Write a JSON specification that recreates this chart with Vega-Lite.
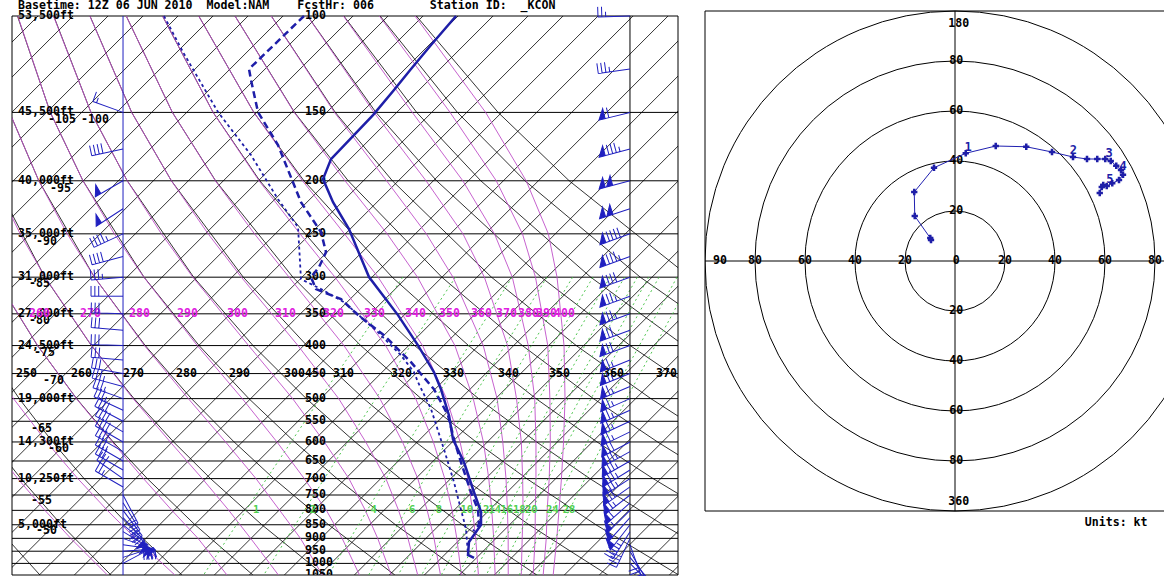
{
"$schema":"https://vega.github.io/schema/vega-lite/v6.json",
"padding":{"left":11,"top":0,"right":0,"bottom":0},
"spacing":25,
"background":"white",
"config":{"view":{"stroke":null},"font":"DejaVu Sans Mono"},
"datasets":{
"plev":[{"p":100},{"p":150},{"p":200},{"p":250},{"p":300},{"p":350},{"p":400},{"p":450},{"p":500},{"p":550},{"p":600},{"p":650},{"p":700},{"p":750},{"p":800},{"p":850},{"p":900},{"p":950},{"p":1000},{"p":1050}],
"frame":[{"x":-45.57},{"x":49.57}],
"iso":[{"t":-120,"xb":-121.66,"xt":-41.85},{"t":-115,"xb":-116.66,"xt":-36.85},{"t":-110,"xb":-111.66,"xt":-31.85},{"t":-105,"xb":-106.66,"xt":-26.85},{"t":-100,"xb":-101.66,"xt":-21.85},{"t":-95,"xb":-96.66,"xt":-16.85},{"t":-90,"xb":-91.66,"xt":-11.85},{"t":-85,"xb":-86.66,"xt":-6.85},{"t":-80,"xb":-81.66,"xt":-1.85},{"t":-75,"xb":-76.66,"xt":3.15},{"t":-70,"xb":-71.66,"xt":8.15},{"t":-65,"xb":-66.66,"xt":13.15},{"t":-60,"xb":-61.66,"xt":18.15},{"t":-55,"xb":-56.66,"xt":23.15},{"t":-50,"xb":-51.66,"xt":28.15},{"t":-45,"xb":-46.66,"xt":33.15},{"t":-40,"xb":-41.66,"xt":38.15},{"t":-35,"xb":-36.66,"xt":43.15},{"t":-30,"xb":-31.66,"xt":48.15},{"t":-25,"xb":-26.66,"xt":53.15},{"t":-20,"xb":-21.66,"xt":58.15},{"t":-15,"xb":-16.66,"xt":63.15},{"t":-10,"xb":-11.66,"xt":68.15},{"t":-5,"xb":-6.66,"xt":73.15},{"t":0,"xb":-1.66,"xt":78.15},{"t":5,"xb":3.34,"xt":83.15},{"t":10,"xb":8.34,"xt":88.15},{"t":15,"xb":13.34,"xt":93.15},{"t":20,"xb":18.34,"xt":98.15},{"t":25,"xb":23.34,"xt":103.15},{"t":30,"xb":28.34,"xt":108.15},{"t":35,"xb":33.34,"xt":113.15},{"t":40,"xb":38.34,"xt":118.15},{"t":45,"xb":43.34,"xt":123.15},{"t":50,"xb":48.34,"xt":128.15}],
"dry":[
{"th":230,"p":1050,"x":-41.58},{"th":230,"p":850,"x":-48.07},
{"th":240,"p":1050,"x":-31.44},{"th":240,"p":850,"x":-38.52},{"th":240,"p":700,"x":-44.3},{"th":240,"p":600,"x":-48.41},
{"th":250,"p":1050,"x":-21.3},{"th":250,"p":850,"x":-28.98},{"th":250,"p":700,"x":-35.27},{"th":250,"p":600,"x":-39.77},{"th":250,"p":500,"x":-44.54},{"th":250,"p":400,"x":-49.63},
{"th":260,"p":1050,"x":-11.16},{"th":260,"p":850,"x":-19.43},{"th":260,"p":700,"x":-26.24},{"th":260,"p":600,"x":-31.12},{"th":260,"p":500,"x":-36.34},{"th":260,"p":400,"x":-41.93},{"th":260,"p":300,"x":-47.97},
{"th":270,"p":1050,"x":-1.02},{"th":270,"p":850,"x":-9.88},{"th":270,"p":700,"x":-17.21},{"th":270,"p":600,"x":-22.48},{"th":270,"p":500,"x":-28.14},{"th":270,"p":400,"x":-34.23},{"th":270,"p":300,"x":-40.88},{"th":270,"p":200,"x":-48.05},
{"th":280,"p":1050,"x":9.12},{"th":280,"p":850,"x":-0.34},{"th":280,"p":700,"x":-8.18},{"th":280,"p":600,"x":-13.84},{"th":280,"p":500,"x":-19.94},{"th":280,"p":400,"x":-26.54},{"th":280,"p":300,"x":-33.8},{"th":280,"p":200,"x":-41.74},{"th":280,"p":150,"x":-45.92},{"th":280,"p":100,"x":-49.97},
{"th":290,"p":1050,"x":19.26},{"th":290,"p":850,"x":9.21},{"th":290,"p":700,"x":0.86},{"th":290,"p":600,"x":-5.2},{"th":290,"p":500,"x":-11.73},{"th":290,"p":400,"x":-18.84},{"th":290,"p":300,"x":-26.71},{"th":290,"p":200,"x":-35.43},{"th":290,"p":150,"x":-40.1},{"th":290,"p":100,"x":-44.79},
{"th":300,"p":1050,"x":29.4},{"th":300,"p":850,"x":18.75},{"th":300,"p":700,"x":9.89},{"th":300,"p":600,"x":3.44},{"th":300,"p":500,"x":-3.53},{"th":300,"p":400,"x":-11.14},{"th":300,"p":300,"x":-19.62},{"th":300,"p":200,"x":-29.11},{"th":300,"p":150,"x":-34.29},{"th":300,"p":100,"x":-39.61},
{"th":310,"p":1050,"x":39.54},{"th":310,"p":850,"x":28.3},{"th":310,"p":700,"x":18.92},{"th":310,"p":600,"x":12.09},{"th":310,"p":500,"x":4.67},{"th":310,"p":400,"x":-3.44},{"th":310,"p":300,"x":-12.53},{"th":310,"p":200,"x":-22.8},{"th":310,"p":150,"x":-28.47},{"th":310,"p":100,"x":-34.43},
{"th":320,"p":1050,"x":49.68},{"th":320,"p":850,"x":37.85},{"th":320,"p":700,"x":27.95},{"th":320,"p":600,"x":20.73},{"th":320,"p":500,"x":12.88},{"th":320,"p":400,"x":4.25},{"th":320,"p":300,"x":-5.44},{"th":320,"p":200,"x":-16.48},{"th":320,"p":150,"x":-22.66},{"th":320,"p":100,"x":-29.25},
{"th":330,"p":1050,"x":59.82},{"th":330,"p":850,"x":47.39},{"th":330,"p":700,"x":36.98},{"th":330,"p":600,"x":29.37},{"th":330,"p":500,"x":21.08},{"th":330,"p":400,"x":11.95},{"th":330,"p":300,"x":1.65},{"th":330,"p":200,"x":-10.17},{"th":330,"p":150,"x":-16.84},{"th":330,"p":100,"x":-24.07},
{"th":340,"p":1050,"x":69.96},{"th":340,"p":850,"x":56.94},{"th":340,"p":700,"x":46.01},{"th":340,"p":600,"x":38.01},{"th":340,"p":500,"x":29.28},{"th":340,"p":400,"x":19.65},{"th":340,"p":300,"x":8.74},{"th":340,"p":200,"x":-3.86},{"th":340,"p":150,"x":-11.02},{"th":340,"p":100,"x":-18.89},
{"th":350,"p":850,"x":66.48},{"th":350,"p":700,"x":55.04},{"th":350,"p":600,"x":46.65},{"th":350,"p":500,"x":37.49},{"th":350,"p":400,"x":27.34},{"th":350,"p":300,"x":15.83},{"th":350,"p":200,"x":2.46},{"th":350,"p":150,"x":-5.21},{"th":350,"p":100,"x":-13.71},
{"th":360,"p":700,"x":64.07},{"th":360,"p":600,"x":55.3},{"th":360,"p":500,"x":45.69},{"th":360,"p":400,"x":35.04},{"th":360,"p":300,"x":22.92},{"th":360,"p":200,"x":8.77},{"th":360,"p":150,"x":0.61},{"th":360,"p":100,"x":-8.53},
{"th":370,"p":600,"x":63.94},{"th":370,"p":500,"x":53.89},{"th":370,"p":400,"x":42.74},{"th":370,"p":300,"x":30.01},{"th":370,"p":200,"x":15.09},{"th":370,"p":150,"x":6.42},{"th":370,"p":100,"x":-3.35},
{"th":380,"p":500,"x":62.1},{"th":380,"p":400,"x":50.44},{"th":380,"p":300,"x":37.1},{"th":380,"p":200,"x":21.4},{"th":380,"p":150,"x":12.24},{"th":380,"p":100,"x":1.83},
{"th":390,"p":400,"x":58.13},{"th":390,"p":300,"x":44.18},{"th":390,"p":200,"x":27.71},{"th":390,"p":150,"x":18.06},{"th":390,"p":100,"x":7.01},
{"th":400,"p":400,"x":65.83},{"th":400,"p":300,"x":51.27},{"th":400,"p":200,"x":34.03},{"th":400,"p":150,"x":23.87},{"th":400,"p":100,"x":12.19}],
"moist":[
{"te":240,"p":1050,"x":-31.94},{"te":240,"p":900,"x":-37.18},{"te":240,"p":800,"x":-40.87},{"te":240,"p":700,"x":-44.75},{"te":240,"p":600,"x":-48.84},
{"te":250,"p":1050,"x":-22.31},{"te":250,"p":900,"x":-27.96},{"te":250,"p":800,"x":-31.95},{"te":250,"p":700,"x":-36.17},{"te":250,"p":600,"x":-40.63},{"te":250,"p":500,"x":-45.36},{"te":250,"p":400,"x":-50.4},
{"te":260,"p":1050,"x":-14.86},{"te":260,"p":900,"x":-19.0},{"te":260,"p":800,"x":-22.73},{"te":260,"p":700,"x":-26.79},{"te":260,"p":600,"x":-31.26},{"te":260,"p":500,"x":-36.38},{"te":260,"p":400,"x":-41.9},{"te":260,"p":300,"x":-47.94},
{"te":270,"p":1050,"x":-7.51},{"te":270,"p":900,"x":-11.48},{"te":270,"p":800,"x":-14.6},{"te":270,"p":700,"x":-18.39},{"te":270,"p":600,"x":-22.96},{"te":270,"p":500,"x":-28.28},{"te":270,"p":400,"x":-34.2},{"te":270,"p":300,"x":-40.84},{"te":270,"p":250,"x":-44.41},{"te":270,"p":200,"x":-48.08},
{"te":280,"p":1050,"x":-1.23},{"te":280,"p":900,"x":-4.37},{"te":280,"p":800,"x":-7.33},{"te":280,"p":700,"x":-10.72},{"te":280,"p":600,"x":-15.06},{"te":280,"p":500,"x":-20.38},{"te":280,"p":400,"x":-26.65},{"te":280,"p":300,"x":-33.79},{"te":280,"p":250,"x":-37.68},{"te":280,"p":200,"x":-41.74},{"te":280,"p":150,"x":-45.92},{"te":280,"p":100,"x":-49.95},
{"te":290,"p":1050,"x":4.07},{"te":290,"p":900,"x":1.59},{"te":290,"p":800,"x":-0.66},{"te":290,"p":700,"x":-3.82},{"te":290,"p":600,"x":-7.72},{"te":290,"p":500,"x":-12.68},{"te":290,"p":400,"x":-19.1},{"te":290,"p":300,"x":-26.74},{"te":290,"p":250,"x":-30.95},{"te":290,"p":200,"x":-35.43},{"te":290,"p":150,"x":-40.11},{"te":290,"p":100,"x":-44.75},
{"te":300,"p":1050,"x":8.61},{"te":300,"p":900,"x":6.67},{"te":300,"p":800,"x":4.9},{"te":300,"p":700,"x":2.56},{"te":300,"p":600,"x":-0.95},{"te":300,"p":500,"x":-5.48},{"te":300,"p":400,"x":-11.77},{"te":300,"p":300,"x":-19.74},{"te":300,"p":250,"x":-24.22},{"te":300,"p":200,"x":-29.11},{"te":300,"p":150,"x":-34.29},{"te":300,"p":100,"x":-39.65},
{"te":310,"p":1050,"x":12.39},{"te":310,"p":900,"x":10.99},{"te":310,"p":800,"x":9.65},{"te":310,"p":700,"x":7.84},{"te":310,"p":600,"x":4.96},{"te":310,"p":500,"x":1.1},{"te":310,"p":400,"x":-4.72},{"te":310,"p":300,"x":-12.81},{"te":310,"p":250,"x":-17.55},{"te":310,"p":200,"x":-22.8},{"te":310,"p":150,"x":-28.48},{"te":310,"p":100,"x":-34.45},
{"te":320,"p":1050,"x":15.64},{"te":320,"p":900,"x":14.72},{"te":320,"p":800,"x":13.74},{"te":320,"p":700,"x":12.4},{"te":320,"p":600,"x":10.22},{"te":320,"p":500,"x":6.98},{"te":320,"p":400,"x":1.85},{"te":320,"p":300,"x":-5.99},{"te":320,"p":250,"x":-10.93},{"te":320,"p":200,"x":-16.52},{"te":320,"p":150,"x":-22.66},{"te":320,"p":100,"x":-29.25},
{"te":330,"p":1050,"x":18.63},{"te":330,"p":900,"x":17.97},{"te":330,"p":800,"x":17.3},{"te":330,"p":700,"x":16.25},{"te":330,"p":600,"x":14.62},{"te":330,"p":500,"x":12.1},{"te":330,"p":400,"x":7.8},{"te":330,"p":300,"x":0.57},{"te":330,"p":250,"x":-4.43},{"te":330,"p":200,"x":-10.28},{"te":330,"p":150,"x":-16.85},{"te":330,"p":100,"x":-24.05},
{"te":340,"p":1050,"x":21.06},{"te":340,"p":900,"x":20.67},{"te":340,"p":800,"x":20.22},{"te":340,"p":700,"x":19.54},{"te":340,"p":600,"x":18.44},{"te":340,"p":500,"x":16.5},{"te":340,"p":400,"x":13.08},{"te":340,"p":300,"x":6.73},{"te":340,"p":250,"x":1.92},{"te":340,"p":200,"x":-4.07},{"te":340,"p":150,"x":-11.03},{"te":340,"p":100,"x":-18.9},
{"te":350,"p":1050,"x":23.45},{"te":350,"p":900,"x":23.24},{"te":350,"p":800,"x":22.97},{"te":350,"p":700,"x":22.54},{"te":350,"p":600,"x":21.77},{"te":350,"p":500,"x":20.32},{"te":350,"p":400,"x":17.7},{"te":350,"p":300,"x":12.36},{"te":350,"p":250,"x":8.02},{"te":350,"p":200,"x":2.0},{"te":350,"p":150,"x":-5.26},{"te":350,"p":100,"x":-13.72},
{"te":360,"p":1050,"x":25.32},{"te":360,"p":900,"x":25.31},{"te":360,"p":800,"x":25.21},{"te":360,"p":700,"x":25.0},{"te":360,"p":600,"x":24.54},{"te":360,"p":500,"x":23.73},{"te":360,"p":400,"x":21.75},{"te":360,"p":300,"x":17.43},{"te":360,"p":250,"x":13.62},{"te":360,"p":200,"x":7.94},{"te":360,"p":150,"x":0.49},{"te":360,"p":100,"x":-8.54},
{"te":370,"p":1050,"x":27.18},{"te":370,"p":900,"x":27.31},{"te":370,"p":800,"x":27.44},{"te":370,"p":700,"x":27.38},{"te":370,"p":600,"x":27.19},{"te":370,"p":500,"x":26.5},{"te":370,"p":400,"x":25.22},{"te":370,"p":300,"x":21.91},{"te":370,"p":250,"x":18.85},{"te":370,"p":200,"x":13.58},{"te":370,"p":150,"x":6.14},{"te":370,"p":100,"x":-3.36},
{"te":380,"p":1050,"x":28.88},{"te":380,"p":900,"x":29.16},{"te":380,"p":800,"x":29.18},{"te":380,"p":700,"x":29.28},{"te":380,"p":600,"x":29.28},{"te":380,"p":500,"x":29.1},{"te":380,"p":400,"x":28.18},{"te":380,"p":300,"x":25.9},{"te":380,"p":250,"x":23.35},{"te":380,"p":200,"x":18.83},{"te":380,"p":150,"x":11.61},{"te":380,"p":100,"x":1.77},
{"te":390,"p":1050,"x":30.31},{"te":390,"p":900,"x":30.75},{"te":390,"p":800,"x":30.88},{"te":390,"p":700,"x":31.17},{"te":390,"p":600,"x":31.33},{"te":390,"p":500,"x":31.27},{"te":390,"p":400,"x":30.97},{"te":390,"p":300,"x":29.21},{"te":390,"p":250,"x":27.35},{"te":390,"p":200,"x":23.61},{"te":390,"p":150,"x":17.01},{"te":390,"p":100,"x":6.91},
{"te":400,"p":1050,"x":31.74},{"te":400,"p":900,"x":32.26},{"te":400,"p":800,"x":32.57},{"te":400,"p":700,"x":32.92},{"te":400,"p":600,"x":33.22},{"te":400,"p":500,"x":33.43},{"te":400,"p":400,"x":33.29},{"te":400,"p":300,"x":32.29},{"te":400,"p":250,"x":31.05},{"te":400,"p":200,"x":27.88},{"te":400,"p":150,"x":22.09},{"te":400,"p":100,"x":12.0}],
"mix":[
{"w":1,"p":1050,"x":-18.21},{"w":1,"p":700,"x":-9.19},{"w":1,"p":500,"x":-1.57},{"w":1,"p":300,"x":10.25},
{"w":2,"p":1050,"x":-9.61},{"w":2,"p":700,"x":-0.96},{"w":2,"p":500,"x":6.38},{"w":2,"p":300,"x":17.79},
{"w":4,"p":1050,"x":-0.37},{"w":4,"p":700,"x":7.88},{"w":4,"p":500,"x":14.9},{"w":4,"p":300,"x":25.87},
{"w":6,"p":1050,"x":5.37},{"w":6,"p":700,"x":13.36},{"w":6,"p":500,"x":20.18},{"w":6,"p":300,"x":30.85},
{"w":8,"p":1050,"x":9.59},{"w":8,"p":700,"x":17.38},{"w":8,"p":500,"x":24.05},{"w":8,"p":300,"x":34.52},
{"w":10,"p":1050,"x":12.95},{"w":10,"p":700,"x":20.59},{"w":10,"p":500,"x":27.13},{"w":10,"p":300,"x":37.43},
{"w":12,"p":1050,"x":15.75},{"w":12,"p":700,"x":23.26},{"w":12,"p":500,"x":29.7},{"w":12,"p":300,"x":39.85},
{"w":14,"p":1050,"x":18.16},{"w":14,"p":700,"x":25.56},{"w":14,"p":500,"x":31.91},{"w":14,"p":300,"x":41.93},
{"w":16,"p":1050,"x":20.28},{"w":16,"p":700,"x":27.57},{"w":16,"p":500,"x":33.85},{"w":16,"p":300,"x":43.76},
{"w":18,"p":1050,"x":22.17},{"w":18,"p":700,"x":29.37},{"w":18,"p":500,"x":35.58},{"w":18,"p":300,"x":45.39},
{"w":20,"p":1050,"x":23.88},{"w":20,"p":700,"x":31.0},{"w":20,"p":500,"x":37.14},{"w":20,"p":300,"x":46.86},
{"w":24,"p":1050,"x":26.88},{"w":24,"p":700,"x":33.85},{"w":24,"p":500,"x":39.87},{"w":24,"p":300,"x":49.43},
{"w":28,"p":1050,"x":29.45},{"w":28,"p":700,"x":36.29},{"w":28,"p":500,"x":42.22},{"w":28,"p":300,"x":51.63}],
"tprof":[{"p":100,"x":17.86},{"p":113,"x":14.29},{"p":125,"x":11.43},{"p":136.5,"x":9.0},{"p":151.7,"x":6.0},{"p":182.6,"x":0.0},{"p":198.6,"x":-1.14},{"p":218.8,"x":0.29},{"p":245.1,"x":2.57},{"p":299.9,"x":5.43},{"p":351.9,"x":9.57},{"p":399.6,"x":12.43},{"p":447.4,"x":14.71},{"p":480.7,"x":15.71},{"p":536.8,"x":16.86},{"p":593.2,"x":17.43},{"p":653.5,"x":19.0},{"p":741.4,"x":20.43},{"p":805.3,"x":21.43},{"p":850.7,"x":21.43},{"p":876.1,"x":20.71},{"p":914,"x":19.71},{"p":965.1,"x":19.57},{"p":977.3,"x":20.43}],
"dprof":[{"p":100,"x":-3.86},{"p":125,"x":-11.71},{"p":130.9,"x":-11.43},{"p":149.8,"x":-10.43},{"p":172.1,"x":-7.57},{"p":218.8,"x":-4.29},{"p":248.2,"x":-1.43},{"p":270,"x":-0.71},{"p":287.5,"x":-1.71},{"p":299.9,"x":-2.86},{"p":315.4,"x":-2.14},{"p":329,"x":1.43},{"p":351.9,"x":3.86},{"p":382.9,"x":7.57},{"p":429,"x":11.43},{"p":480.7,"x":14.71},{"p":536,"x":16.71},{"p":593.2,"x":17.57},{"p":653.5,"x":18.57},{"p":741.4,"x":20.0},{"p":797.7,"x":21.0},{"p":850.7,"x":21.14},{"p":873,"x":20.3}],
"wprof":[{"p":100,"x":-23.86},{"p":116.4,"x":-21.14},{"p":149.8,"x":-16.14},{"p":179.5,"x":-11.43},{"p":216.1,"x":-7.57},{"p":243,"x":-4.71},{"p":302.4,"x":-4.29},{"p":315.4,"x":-1.43},{"p":333.2,"x":1.86},{"p":378.1,"x":6.71},{"p":416.7,"x":10.0},{"p":447.4,"x":11.86},{"p":466.5,"x":12.43},{"p":522.4,"x":14.29},{"p":618.8,"x":16.14},{"p":710.4,"x":17.57},{"p":797.7,"x":18.57},{"p":865.2,"x":19.29},{"p":965.1,"x":19.57}],
"barbR":[{"p":100,"dir":268,"spd":25},{"p":125,"dir":262,"spd":35},{"p":150,"dir":256,"spd":60},{"p":175,"dir":255,"spd":85},{"p":200,"dir":255,"spd":100},{"p":225,"dir":252,"spd":100},{"p":250,"dir":250,"spd":90},{"p":275,"dir":250,"spd":85},{"p":300,"dir":250,"spd":80},{"p":325,"dir":250,"spd":75},{"p":350,"dir":250,"spd":75},{"p":375,"dir":250,"spd":70},{"p":400,"dir":250,"spd":70},{"p":425,"dir":248,"spd":65},{"p":450,"dir":248,"spd":65},{"p":475,"dir":247,"spd":65},{"p":500,"dir":246,"spd":65},{"p":525,"dir":246,"spd":65},{"p":550,"dir":245,"spd":65},{"p":575,"dir":244,"spd":65},{"p":600,"dir":242,"spd":70},{"p":625,"dir":241,"spd":75},{"p":650,"dir":240,"spd":75},{"p":675,"dir":238,"spd":75},{"p":700,"dir":237,"spd":75},{"p":725,"dir":235,"spd":70},{"p":750,"dir":232,"spd":65},{"p":775,"dir":228,"spd":60},{"p":800,"dir":225,"spd":55},{"p":825,"dir":222,"spd":50},{"p":850,"dir":218,"spd":50},{"p":875,"dir":212,"spd":45},{"p":900,"dir":205,"spd":40},{"p":925,"dir":160,"spd":30},{"p":950,"dir":150,"spd":20},{"p":975,"dir":140,"spd":15},{"p":1000,"dir":135,"spd":10}],
"barbL":[{"p":150,"dir":290,"spd":15},{"p":175,"dir":258,"spd":40},{"p":200,"dir":240,"spd":50},{"p":225,"dir":237,"spd":50},{"p":250,"dir":245,"spd":45},{"p":275,"dir":255,"spd":40},{"p":300,"dir":265,"spd":35},{"p":325,"dir":270,"spd":30},{"p":350,"dir":272,"spd":30},{"p":375,"dir":275,"spd":30},{"p":400,"dir":272,"spd":30},{"p":425,"dir":275,"spd":30},{"p":450,"dir":280,"spd":30},{"p":475,"dir":285,"spd":35},{"p":500,"dir":290,"spd":35},{"p":525,"dir":295,"spd":35},{"p":550,"dir":298,"spd":40},{"p":575,"dir":300,"spd":40},{"p":600,"dir":300,"spd":40},{"p":625,"dir":300,"spd":40},{"p":650,"dir":300,"spd":35},{"p":675,"dir":300,"spd":30},{"p":700,"dir":305,"spd":30},{"p":725,"dir":300,"spd":25},{"p":750,"dir":152,"spd":20},{"p":775,"dir":148,"spd":25},{"p":800,"dir":143,"spd":30},{"p":825,"dir":137,"spd":40},{"p":850,"dir":129,"spd":50},{"p":875,"dir":121,"spd":50},{"p":900,"dir":110,"spd":50},{"p":925,"dir":98,"spd":50},{"p":950,"dir":86,"spd":40},{"p":975,"dir":72,"spd":30},{"p":1000,"dir":62,"spd":20}],
"title":[{"t":"Basetime: 12Z 06 JUN 2010\u00a0\u00a0Model:NAM\u00a0\u00a0\u00a0\u00a0FcstHr: 006\u00a0\u00a0\u00a0\u00a0\u00a0\u00a0\u00a0\u00a0Station ID:\u00a0\u00a0_KCON","p":95.9}],
"hgt":[{"t":"53,500ft","p":100},{"t":"45,500ft","p":150},{"t":"40,000ft","p":200},{"t":"35,000ft","p":250},{"t":"31,000ft","p":300},{"t":"27,000ft","p":350},{"t":"24,500ft","p":400},{"t":"19,000ft","p":500},{"t":"14,300ft","p":600},{"t":"10,250ft","p":700},{"t":"5,000ft","p":850}],
"plab":[{"t":"100","p":100},{"t":"150","p":150},{"t":"200","p":200},{"t":"250","p":250},{"t":"300","p":300},{"t":"350","p":350},{"t":"400","p":400},{"t":"450","p":450},{"t":"500","p":500},{"t":"550","p":550},{"t":"600","p":600},{"t":"650","p":650},{"t":"700","p":700},{"t":"750","p":750},{"t":"800","p":800},{"t":"850","p":850},{"t":"900","p":900},{"t":"950","p":950},{"t":"1000","p":1000},{"t":"1050","p":1050}],
"tlab":[{"t":"-105","x":-40.43,"p":154.9},{"t":"-100","x":-35.71,"p":154.9},{"t":"-95","x":-40.14,"p":207.1},{"t":"-90","x":-42.14,"p":258.9},{"t":"-85","x":-43.14,"p":308.9},{"t":"-80","x":-43.14,"p":361.0},{"t":"-75","x":-42.43,"p":413.0},{"t":"-70","x":-41.14,"p":464.7},{"t":"-65","x":-42.86,"p":568.7},{"t":"-60","x":-40.43,"p":618.7},{"t":"-55","x":-42.86,"p":770.1},{"t":"-50","x":-42.14,"p":873.7}],
"thlab":[{"t":"250","x":-45.0},{"t":"260","x":-37.14},{"t":"270","x":-29.71},{"t":"280","x":-22.14},{"t":"290","x":-14.57},{"t":"300","x":-6.71},{"t":"310","x":0.29},{"t":"320","x":8.57},{"t":"330","x":16.0},{"t":"340","x":23.86},{"t":"350","x":31.14},{"t":"360","x":38.86},{"t":"370","x":46.43}],
"telab":[{"t":"260","x":-43.14},{"t":"270","x":-35.86},{"t":"280","x":-28.86},{"t":"290","x":-22.0},{"t":"300","x":-14.86},{"t":"310","x":-8.0},{"t":"320","x":-1.14},{"t":"330","x":4.71},{"t":"340","x":10.57},{"t":"350","x":15.43},{"t":"360","x":20.0},{"t":"370","x":23.57},{"t":"380","x":26.71},{"t":"390","x":29.29},{"t":"400","x":31.86}],
"wlab":[{"t":"1","x":-10.7},{"t":"2","x":-2.6},{"t":"4","x":6.1},{"t":"6","x":11.6},{"t":"8","x":15.4},{"t":"10","x":19.4},{"t":"12","x":21.7},{"t":"14","x":23.4},{"t":"16","x":25.1},{"t":"18","x":26.9},{"t":"20","x":28.6},{"t":"24","x":31.6},{"t":"28","x":34.0}],
"hframe":[{"u":-100,"v":100,"u2":84.8,"v2":100},{"u":-100,"v":-100,"u2":84.8,"v2":-100},{"u":-100,"v":-100,"u2":-100,"v2":100},{"u":0,"v":-100,"u2":0,"v2":100},{"u":-100,"v":0,"u2":84.8,"v2":0}],
"rings":[{"r":20},{"r":40},{"r":60},{"r":80},{"r":100}],
"hlab":[{"t":"180","u":1.5,"v":95},{"t":"80","u":0.5,"v":80},{"t":"60","u":0.5,"v":60},{"t":"40","u":0.5,"v":40},{"t":"20","u":0.5,"v":20},{"t":"20","u":0.5,"v":-20},{"t":"40","u":0.5,"v":-40},{"t":"60","u":0.5,"v":-60},{"t":"80","u":0.5,"v":-80},{"t":"360","u":1.5,"v":-96.5},{"t":"90","u":-94,"v":0},{"t":"80","u":-80,"v":0},{"t":"60","u":-60,"v":0},{"t":"40","u":-40,"v":0},{"t":"20","u":-20,"v":0},{"t":"0","u":0.5,"v":0},{"t":"20","u":20,"v":0},{"t":"40","u":40,"v":0},{"t":"60","u":60,"v":0},{"t":"80","u":80,"v":0}],
"hodo":[{"i":0,"u":-9.6,"v":8.4},{"i":1,"u":-9.9,"v":9.2},{"i":2,"u":-16.1,"v":18.0},{"i":3,"u":-16.3,"v":27.6},{"i":4,"u":-8.4,"v":37.3},{"i":5,"u":4.3,"v":43.1},{"i":6,"u":16.3,"v":46.0},{"i":7,"u":28.5,"v":45.7},{"i":8,"u":38.8,"v":43.6},{"i":9,"u":47.2,"v":41.6},{"i":10,"u":52.8,"v":40.8},{"i":11,"u":56.9,"v":40.8},{"i":12,"u":60.1,"v":40.8},{"i":13,"u":62.3,"v":40.0},{"i":14,"u":64.5,"v":38.1},{"i":15,"u":66.4,"v":36.4},{"i":16,"u":67.2,"v":34.5},{"i":17,"u":65.6,"v":32.4},{"i":18,"u":62.9,"v":31.1},{"i":19,"u":60.7,"v":30.0},{"i":20,"u":59.3,"v":30.4},{"i":21,"u":58.7,"v":29.6},{"i":22,"u":57.9,"v":27.2}],
"hnum":[{"t":"1","u":5.2,"v":45.7},{"t":"2","u":47.3,"v":44.4},{"t":"3","u":61.6,"v":43.3},{"t":"4","u":67.2,"v":38.0},{"t":"5","u":61.9,"v":32.9}],
"units":[{"t":"Units: kt","u":51.9,"v":-104.8}]
},
"hconcat":[
{
"width":666,"height":573,
"layer":[
{"data":{"name":"plev"},"mark":{"type":"rule","color":"black","strokeWidth":1},
 "encoding":{"y":{"field":"p","type":"quantitative","scale":{"type":"log","domain":[94.28,1050],"reverse":true,"nice":false},"axis":null}}},
{"data":{"name":"frame"},"mark":{"type":"rule","color":"black","strokeWidth":1},
 "encoding":{"x":{"field":"x","type":"quantitative","scale":{"domain":[-45.57,49.57],"nice":false,"zero":false},"axis":null},
 "y":{"datum":100,"type":"quantitative","axis":null},"y2":{"datum":1050}}},
{"data":{"name":"iso"},"mark":{"type":"rule","color":"black","strokeWidth":0.8,"clip":true},
 "encoding":{"x":{"field":"xb","type":"quantitative","axis":null},"x2":{"field":"xt"},
 "y":{"datum":1050,"type":"quantitative","axis":null},"y2":{"datum":100}}},
{"data":{"name":"dry"},"mark":{"type":"line","color":"black","strokeWidth":0.8,"clip":true},
 "encoding":{"x":{"field":"x","type":"quantitative","axis":null},"y":{"field":"p","type":"quantitative","axis":null},"detail":{"field":"th"},"order":{"field":"p","type":"quantitative"}}},
{"data":{"name":"moist"},"mark":{"type":"line","color":"#c050c8","strokeWidth":0.9,"clip":true},
 "encoding":{"x":{"field":"x","type":"quantitative","axis":null},"y":{"field":"p","type":"quantitative","axis":null},"detail":{"field":"te"},"order":{"field":"p","type":"quantitative"}}},
{"data":{"name":"mix"},"mark":{"type":"line","color":"#3cc03c","strokeWidth":0.9,"strokeDash":[2,3],"clip":true},
 "encoding":{"x":{"field":"x","type":"quantitative","axis":null},"y":{"field":"p","type":"quantitative","axis":null},"detail":{"field":"w"},"order":{"field":"p","type":"quantitative"}}},
{"data":{"values":[{}]},"mark":{"type":"rule","color":"#2020c0","strokeWidth":1},
 "encoding":{"x":{"datum":-29.71,"type":"quantitative","axis":null},"y":{"datum":100,"type":"quantitative","axis":null},"y2":{"datum":1050}}},
{"data":{"values":[{}]},"mark":{"type":"rule","color":"black","strokeWidth":1},
 "encoding":{"x":{"datum":42.71,"type":"quantitative","axis":null},"y":{"datum":100,"type":"quantitative","axis":null},"y2":{"datum":1050}}},
{"data":{"name":"title"},"mark":{"type":"text","align":"left","baseline":"middle","font":"DejaVu Sans Mono","fontWeight":"bold","fontSize":11.6,"color":"black"},
 "encoding":{"x":{"datum":-44.71,"type":"quantitative","axis":null},"y":{"field":"p","type":"quantitative","axis":null},"text":{"field":"t"}}},
{"data":{"name":"hgt"},"mark":{"type":"text","align":"left","baseline":"middle","font":"DejaVu Sans Mono","fontWeight":"bold","fontSize":11.6,"color":"black"},
 "encoding":{"x":{"datum":-44.71,"type":"quantitative","axis":null},"y":{"field":"p","type":"quantitative","axis":null},"text":{"field":"t"}}},
{"data":{"name":"plab"},"mark":{"type":"text","align":"left","baseline":"middle","font":"DejaVu Sans Mono","fontWeight":"bold","fontSize":11.6,"color":"black","clip":true},
 "encoding":{"x":{"datum":-3.71,"type":"quantitative","axis":null},"y":{"field":"p","type":"quantitative","axis":null},"text":{"field":"t"}}},
{"data":{"name":"tlab"},"mark":{"type":"text","align":"left","baseline":"middle","font":"DejaVu Sans Mono","fontWeight":"bold","fontSize":11.6,"color":"black"},
 "encoding":{"x":{"field":"x","type":"quantitative","axis":null},"y":{"field":"p","type":"quantitative","axis":null},"text":{"field":"t"}}},
{"data":{"name":"thlab"},"mark":{"type":"text","align":"left","baseline":"middle","font":"DejaVu Sans Mono","fontWeight":"bold","fontSize":11.6,"color":"black"},
 "encoding":{"x":{"field":"x","type":"quantitative","axis":null},"y":{"datum":450,"type":"quantitative","axis":null},"text":{"field":"t"}}},
{"data":{"name":"telab"},"mark":{"type":"text","align":"left","baseline":"middle","font":"DejaVu Sans Mono","fontWeight":"bold","fontSize":11.6,"color":"#e020e0"},
 "encoding":{"x":{"field":"x","type":"quantitative","axis":null},"y":{"datum":350,"type":"quantitative","axis":null},"text":{"field":"t"}}},
{"data":{"name":"wlab"},"mark":{"type":"text","align":"center","baseline":"middle","font":"DejaVu Sans Mono","fontWeight":"bold","fontSize":10.5,"color":"#50d050"},
 "encoding":{"x":{"field":"x","type":"quantitative","axis":null},"y":{"datum":800,"type":"quantitative","axis":null},"text":{"field":"t"}}},
{"data":{"name":"wprof"},"mark":{"type":"line","color":"#1e1ea8","strokeWidth":1.8,"strokeDash":[3,3]},
 "encoding":{"x":{"field":"x","type":"quantitative","axis":null},"y":{"field":"p","type":"quantitative","axis":null},"order":{"field":"p","type":"quantitative"}}},
{"data":{"name":"dprof"},"mark":{"type":"line","color":"#1e1ea8","strokeWidth":2.5,"strokeDash":[7,4]},
 "encoding":{"x":{"field":"x","type":"quantitative","axis":null},"y":{"field":"p","type":"quantitative","axis":null},"order":{"field":"p","type":"quantitative"}}},
{"data":{"name":"tprof"},"mark":{"type":"line","color":"#1e1ea8","strokeWidth":2.5},
 "encoding":{"x":{"field":"x","type":"quantitative","axis":null},"y":{"field":"p","type":"quantitative","axis":null},"order":{"field":"p","type":"quantitative"}}},
{"data":{"name":"barbR"},"mark":{"type":"point","filled":true,"fill":"#2020c0","stroke":"#2020c0","strokeWidth":1,"opacity":1,"size":4096},
 "encoding":{"x":{"datum":42.71,"type":"quantitative","axis":null},"y":{"field":"p","type":"quantitative","axis":null},
 "angle":{"field":"dir","type":"quantitative","scale":{"domain":[0,360],"range":[-270,90]}},
 "shape":{"field":"spd","type":"ordinal","legend":null,"scale":{"domain":[5,10,15,20,25,30,35,40,45,50,55,60,65,70,75,80,85,90,95,100],"range":[
 "M0 0L-1 0M-0.88 0L-0.88 -0.16",
 "M0 0L-1 0M-1 0L-1 -0.32",
 "M0 0L-1 0M-1 0L-1 -0.32M-0.88 0L-0.88 -0.16",
 "M0 0L-1 0M-1 0L-1 -0.32M-0.88 0L-0.88 -0.32",
 "M0 0L-1 0M-1 0L-1 -0.32M-0.88 0L-0.88 -0.32M-0.76 0L-0.76 -0.16",
 "M0 0L-1 0M-1 0L-1 -0.32M-0.88 0L-0.88 -0.32M-0.76 0L-0.76 -0.32",
 "M0 0L-1 0M-1 0L-1 -0.32M-0.88 0L-0.88 -0.32M-0.76 0L-0.76 -0.32M-0.64 0L-0.64 -0.16",
 "M0 0L-1 0M-1 0L-1 -0.32M-0.88 0L-0.88 -0.32M-0.76 0L-0.76 -0.32M-0.64 0L-0.64 -0.32",
 "M0 0L-1 0M-1 0L-1 -0.32M-0.88 0L-0.88 -0.32M-0.76 0L-0.76 -0.32M-0.64 0L-0.64 -0.32M-0.52 0L-0.52 -0.16",
 "M0 0L-1 0M-1 0L-0.8 -0.32L-0.8 0Z",
 "M0 0L-1 0M-1 0L-0.8 -0.32L-0.8 0ZM-0.68 0L-0.68 -0.16",
 "M0 0L-1 0M-1 0L-0.8 -0.32L-0.8 0ZM-0.68 0L-0.68 -0.32",
 "M0 0L-1 0M-1 0L-0.8 -0.32L-0.8 0ZM-0.68 0L-0.68 -0.32M-0.56 0L-0.56 -0.16",
 "M0 0L-1 0M-1 0L-0.8 -0.32L-0.8 0ZM-0.68 0L-0.68 -0.32M-0.56 0L-0.56 -0.32",
 "M0 0L-1 0M-1 0L-0.8 -0.32L-0.8 0ZM-0.68 0L-0.68 -0.32M-0.56 0L-0.56 -0.32M-0.44 0L-0.44 -0.16",
 "M0 0L-1 0M-1 0L-0.8 -0.32L-0.8 0ZM-0.68 0L-0.68 -0.32M-0.56 0L-0.56 -0.32M-0.44 0L-0.44 -0.32",
 "M0 0L-1 0M-1 0L-0.8 -0.32L-0.8 0ZM-0.68 0L-0.68 -0.32M-0.56 0L-0.56 -0.32M-0.44 0L-0.44 -0.32M-0.32 0L-0.32 -0.16",
 "M0 0L-1 0M-1 0L-0.8 -0.32L-0.8 0ZM-0.68 0L-0.68 -0.32M-0.56 0L-0.56 -0.32M-0.44 0L-0.44 -0.32M-0.32 0L-0.32 -0.32",
 "M0 0L-1 0M-1 0L-0.8 -0.32L-0.8 0ZM-0.68 0L-0.68 -0.32M-0.56 0L-0.56 -0.32M-0.44 0L-0.44 -0.32M-0.32 0L-0.32 -0.32M-0.2 0L-0.2 -0.16",
 "M0 0L-1 0M-1 0L-0.8 -0.32L-0.8 0ZM-0.76 0L-0.56 -0.32L-0.56 0Z"]}}}},
{"data":{"name":"barbL"},"mark":{"type":"point","filled":true,"fill":"#2020c0","stroke":"#2020c0","strokeWidth":1,"opacity":1,"size":4096},
 "encoding":{"x":{"datum":-29.71,"type":"quantitative","axis":null},"y":{"field":"p","type":"quantitative","axis":null},
 "angle":{"field":"dir","type":"quantitative"},
 "shape":{"field":"spd","type":"ordinal","legend":null}}}
]
},
{
"width":462,"height":576,
"layer":[
{"data":{"name":"rings"},"mark":{"type":"point","shape":"circle","filled":false,"stroke":"black","strokeWidth":1,"opacity":1,"clip":true},
 "encoding":{"x":{"datum":0,"type":"quantitative","scale":{"domain":[-100,84.8],"nice":false,"zero":false},"axis":null},
 "y":{"datum":0,"type":"quantitative","scale":{"domain":[-126.8,103.6],"nice":false,"zero":false},"axis":null},
 "size":{"field":"r","type":"quantitative","legend":null,"scale":{"type":"pow","exponent":2,"domain":[0,100],"range":[0,250000]}}}},
{"data":{"name":"hframe"},"mark":{"type":"rule","color":"black","strokeWidth":1},
 "encoding":{"x":{"field":"u","type":"quantitative","axis":null},"x2":{"field":"u2"},"y":{"field":"v","type":"quantitative","axis":null},"y2":{"field":"v2"}}},
{"data":{"name":"hlab"},"mark":{"type":"text","align":"center","baseline":"middle","font":"DejaVu Sans Mono","fontWeight":"bold","fontSize":11.6,"color":"black"},
 "encoding":{"x":{"field":"u","type":"quantitative","axis":null},"y":{"field":"v","type":"quantitative","axis":null},"text":{"field":"t"}}},
{"data":{"name":"hodo"},"mark":{"type":"line","color":"#2020b0","strokeWidth":1},
 "encoding":{"x":{"field":"u","type":"quantitative","axis":null},"y":{"field":"v","type":"quantitative","axis":null},"order":{"field":"i","type":"quantitative"}}},
{"data":{"name":"hodo"},"mark":{"type":"point","shape":"cross","filled":true,"size":40,"color":"#1e1ea8","opacity":1},
 "encoding":{"x":{"field":"u","type":"quantitative","axis":null},"y":{"field":"v","type":"quantitative","axis":null}}},
{"data":{"name":"hnum"},"mark":{"type":"text","align":"center","baseline":"middle","font":"DejaVu Sans Mono","fontWeight":"bold","fontSize":12,"color":"#1e1ea8"},
 "encoding":{"x":{"field":"u","type":"quantitative","axis":null},"y":{"field":"v","type":"quantitative","axis":null},"text":{"field":"t"}}},
{"data":{"name":"units"},"mark":{"type":"text","align":"left","baseline":"middle","font":"DejaVu Sans Mono","fontWeight":"bold","fontSize":11.6,"color":"black"},
 "encoding":{"x":{"field":"u","type":"quantitative","axis":null},"y":{"field":"v","type":"quantitative","axis":null},"text":{"field":"t"}}}
]
}
]
}
